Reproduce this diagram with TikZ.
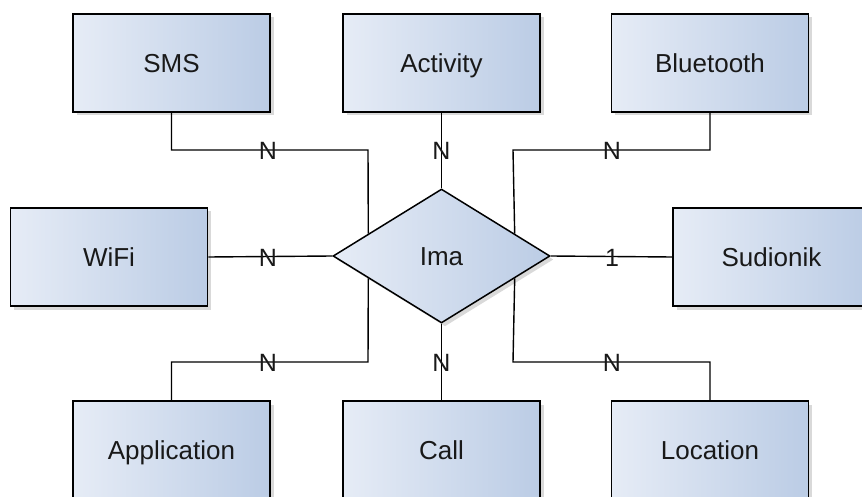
\documentclass[tikz,border=0pt]{standalone}
\usepackage{fontspec}
\setmainfont{Liberation Sans}
\usetikzlibrary{shapes.geometric,shadows,calc}

\definecolor{boxlight}{RGB}{230,236,246}
\definecolor{boxdark}{RGB}{187,204,229}
\definecolor{inkcol}{RGB}{25,25,25}

\begin{document}
\begin{tikzpicture}[
        x=1pt,y=-1pt,
        entity/.style={rectangle,draw=black,line width=1.7pt,inner sep=0pt,
            minimum width=197pt,minimum height=98pt,
            left color=boxlight,right color=boxdark,
            drop shadow={opacity=0.3,shadow xshift=3.5pt,shadow yshift=-3.5pt},
            font=\fontsize{26}{30}\selectfont,text=inkcol,
            text height=18.6pt,text depth=0pt},
        relation/.style={diamond,draw=black,line width=1.5pt,inner sep=0pt,
            minimum width=217pt,minimum height=134pt,
            left color=boxlight,right color=boxdark,
            drop shadow={opacity=0.3,shadow xshift=3.5pt,shadow yshift=-3.5pt},
            font=\fontsize{26}{30}\selectfont,text=inkcol,
            text height=18.6pt,text depth=0pt},
        link/.style={line width=1.4pt,black},
        card/.style={inner sep=0pt,font=\fontsize{25}{28}\selectfont,text=inkcol}
    ]
        \useasboundingbox (0,0) rectangle (862,497);

        % Define the entities
        \node[entity] (sms) at (171.5,63) {SMS};
        \node[entity] (activity) at (441.5,63) {Activity};
        \node[entity] (bluetooth) at (710,63) {Bluetooth};
        \node[entity] (wifi) at (109,257) {WiFi};
        \node[entity] (sudionik) at (771.5,257) {Sudionik};
        \node[entity] (application) at (171.5,450) {Application};
        \node[entity] (call) at (441.5,450) {Call};
        \node[entity] (location) at (710,450) {Location};

        % The relationship
        \node[relation] (ima) at (441.5,256) {Ima};

        % Bends of the connectors
        \coordinate (smsbend) at (368,150);
        \coordinate (btbend) at (513,150);
        \coordinate (appbend) at (368,362);
        \coordinate (locbend) at (513,362);

        % Connectors
        \draw[link] (sms.south) |- (smsbend) -- ($(ima.west)!0.33!(ima.north)$);
        \draw[link] (bluetooth.south) |- (btbend) -- ($(ima.east)!0.33!(ima.north)$);
        \draw[link] (application.north) |- (appbend) -- ($(ima.west)!0.33!(ima.south)$);
        \draw[link] (location.north) |- (locbend) -- ($(ima.east)!0.33!(ima.south)$);
        \draw[link] (activity.south) -- (ima.north);
        \draw[link] (call.north) -- (ima.south);
        \draw[link] (wifi.east) -- (ima.west);
        \draw[link] (ima.east) -- (sudionik.west);

        % Cardinalities
        \node[card] (nsms) at (268,151) {N};
        \node[card] (nactivity) at (441.5,151) {N};
        \node[card] (nbluetooth) at (612,151) {N};
        \node[card] (nwifi) at (268,258) {N};
        \node[card] (nsudionik) at (612,258) {1};
        \node[card] (napplication) at (268,363) {N};
        \node[card] (ncall) at (441.5,363) {N};
        \node[card] (nlocation) at (612,363) {N};
    \end{tikzpicture}
\end{document}
